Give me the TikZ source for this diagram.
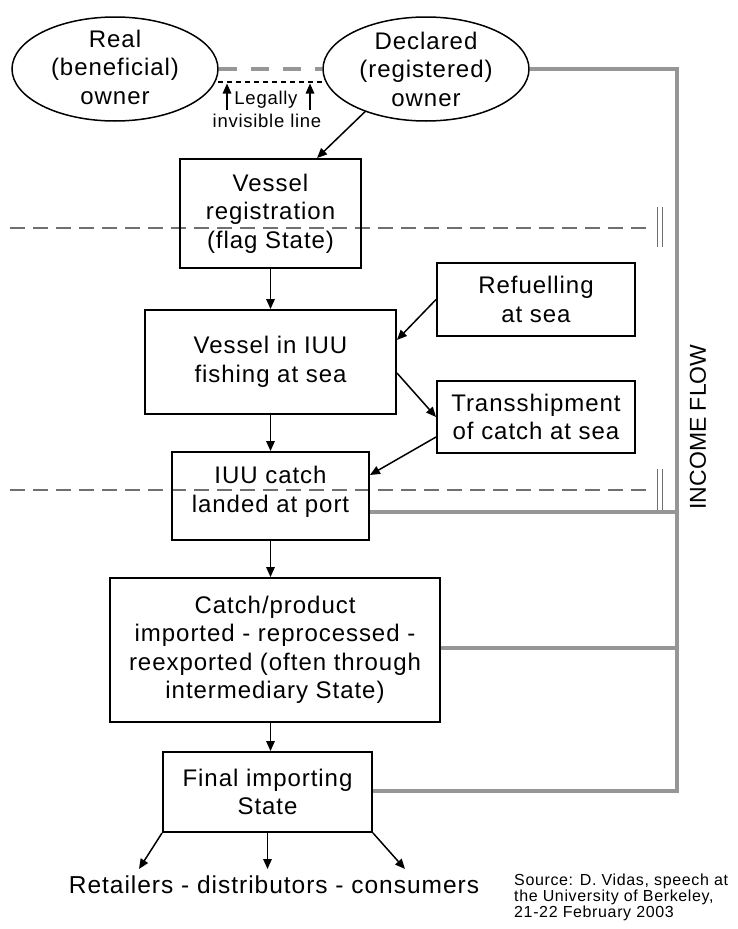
\documentclass[tikz,border=0pt]{standalone}
\usepackage{fontspec}
\setmainfont{Liberation Sans}[LetterSpace=4]
\newfontfamily\plainsans{Liberation Sans}
\usetikzlibrary{arrows.meta,shapes.geometric,calc}
\definecolor{incomegray}{RGB}{150,150,150}
\definecolor{sepgray}{RGB}{112,112,112}
\begin{document}
\begin{tikzpicture}[x=1pt,y=-1pt,
  box/.style={draw, line width=1.9pt, align=center, inner sep=0pt,
    font=\fontsize{24}{28.5}\selectfont},
  ell/.style={draw, ellipse, line width=1.5pt, minimum width=206pt,
    minimum height=104pt, inner sep=0pt},
  etext/.style={align=center, inner sep=0pt, font=\fontsize{24}{28.5}\selectfont},
  arr/.style={line width=1.5pt, -{Triangle[length=10pt,width=8.5pt]}},
  income/.style={draw=incomegray, line width=3.2pt},
  sepline/.style={draw=sepgray, line width=1.8pt, dash pattern=on 15pt off 8pt},
  bars/.style={draw=sepgray, line width=1pt},
  small/.style={inner sep=0pt, font=\fontsize{18.5}{20}\selectfont}]
\useasboundingbox (0,0) rectangle (738,929);

% separator lines (behind)
\coordinate (s1L) at (10,228);
\coordinate (s1R) at (651,228);
\coordinate (s2L) at (10,490);
\coordinate (s2R) at (651,490);
\draw[sepline] (s1L) -- (s1R);
\draw[sepline] (s2L) -- (s2R);
\draw[bars] (657,207) -- (657,247) (662,207) -- (662,247);
\draw[bars] (657,469) -- (657,510) (662,469) -- (662,510);

% owners
\node[ell] (real) at (115,69) {};
\node[etext] at ([yshift=2pt]real.center) {Real\\(beneficial)\\owner};
\node[ell] (decl) at (426,69) {};
\node[etext] at (decl) {Declared\\(registered)\\owner};

% legally invisible line
\draw[draw=incomegray, line width=3.5pt, dash pattern=on 18pt off 14pt] (real.east) -- (decl.west);
\coordinate (lvL) at (218,82);
\coordinate (lvR) at (323,82);
\draw[line width=1.5pt, dash pattern=on 5pt off 4pt] (lvL) -- (lvR);
\coordinate (aL) at (227,110);
\coordinate (aR) at (310,110);
\draw[arr] (aL) -- (227,83.5);
\draw[arr] (aR) -- (310,83.5);
\node[small] (legally) at (266,100) {Legally};
\node[small] (invis) at (267,121) {invisible line};

% boxes
\node[box, minimum width=181pt, minimum height=109pt] (reg) at (270.5,213.5) {Vessel\\registration\\(flag State)};
\node[box, minimum width=251pt, minimum height=104pt] (fish) at (270.5,362) {Vessel in IUU\\fishing at sea};
\node[box, minimum width=198pt, minimum height=73pt] (refuel) at (536,299.5) {Refuelling\\at sea};
\node[box, minimum width=198pt, minimum height=72pt] (trans) at (536,417) {Transshipment\\of catch at sea};
\node[box, minimum width=197pt, minimum height=88pt] (iuu) at (270.5,496) {};
\node[etext] at ([yshift=4pt]iuu.center) {IUU catch\\landed at port};
\node[box, minimum width=330pt, minimum height=144pt] (catch) at (275,650) {Catch/product\\imported - reprocessed -\\reexported (often through\\intermediary State)};
\node[box, minimum width=209pt, minimum height=80pt] (final) at (267.5,792) {Final importing\\State};

\node[inner sep=0pt, font=\fontsize{24.5}{28}\selectfont] (ret) at (274,885) {Retailers - distributors - consumers};
\node[inner sep=0pt, anchor=west, align=left, font=\fontsize{16}{14.5}\selectfont] (src) at (514,897.5) {Source: D. Vidas, speech at\\the University of Berkeley,\\21-22 February 2003};
\node[inner sep=0pt, rotate=90, font=\plainsans\fontsize{23}{23}\selectfont] (flow) at (698,427) {INCOME FLOW};

% income flow lines
\coordinate (top) at (677,69);
\coordinate (bot) at (677,791);
\coordinate (iuuR) at ([yshift=-16pt]iuu.east);
\draw[income] (decl.east) -- (top) -- (bot) -- (final.east |- bot);
\draw[income] (iuuR) -- (iuuR -| top);
\draw[income] ([yshift=2pt]catch.east) -- ([yshift=2pt]catch.east -| top);

% arrows
\draw[arr] (decl.215) -- ([xshift=46.5pt]reg.north);
\draw[arr] (reg.south) -- (fish.north);
\draw[arr] (refuel.west) -- ([yshift=22pt]fish.east);
\draw[arr] ([yshift=-11pt]fish.east) -- (trans.west);
\draw[arr] ([yshift=-20pt]trans.west) -- ([yshift=21pt]iuu.east);
\draw[arr] (fish.south) -- (iuu.north);
\draw[arr] (iuu.south) -- (iuu.south |- catch.north);
\draw[arr] (iuu.south |- catch.south) -- (iuu.south |- final.north);
\coordinate (rL) at (139,869);
\coordinate (rR) at (405,869);
\draw[arr] (final.south west) -- (rL);
\draw[arr] (final.south) -- (final.south |- rL);
\draw[arr] (final.south east) -- (rR);
\end{tikzpicture}
\end{document}
